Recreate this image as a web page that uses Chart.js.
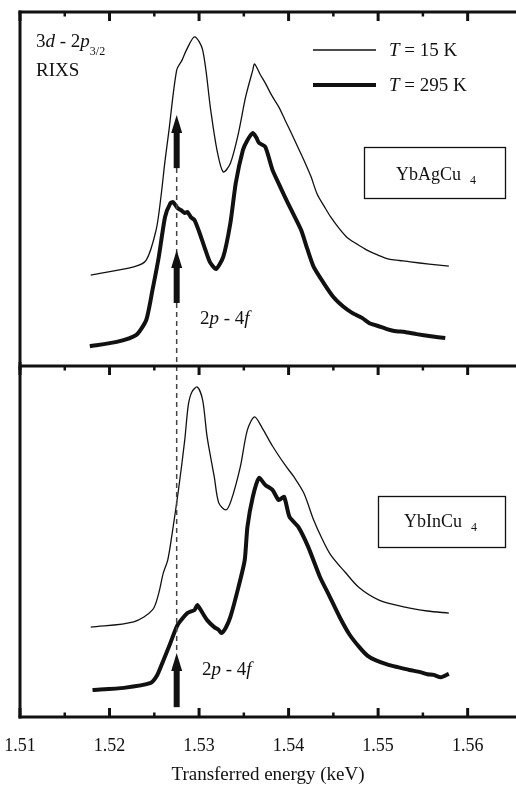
<!DOCTYPE html>
<html>
<head>
<meta charset="utf-8">
<script src="https://cdn.jsdelivr.net/npm/chart.js@4.4.1/dist/chart.umd.min.js"></script>
<style>
  body { margin: 0; background: #fff; }
  #wrap { position: relative; width: 516px; height: 785px; }
  canvas { position: absolute; left: 0; }
</style>
</head>
<body>
<div id="wrap">
  <canvas id="topChart" width="516" height="370" style="top:0"></canvas>
  <canvas id="bottomChart" width="516" height="423" style="top:362px"></canvas>
</div>
<script>
// x axis
const xMin = 1.51, xMax = 1.5654;
const majorTicks = [1.51, 1.52, 1.53, 1.54, 1.55, 1.56];
const minorTicks = [1.515, 1.525, 1.535, 1.545, 1.555];
const markEnergy = 1.5275;   // 2p - 4f position (dashed line)

// YbAgCu4, T = 15 K
const agColdE = [1.5179,1.5227,1.5241,1.5252,1.5257,1.5262,1.5266,1.5275,1.5281,1.5286,1.5295,1.5304,1.5313,1.5320,1.5327,1.5335,1.5344,1.5352,1.5360,1.5362,1.5368,1.5374,1.5381,1.5389,1.5396,1.5403,1.5410,1.5417,1.5425,1.5432,1.5440,1.5447,1.5456,1.5465,1.5476,1.5487,1.5500,1.5512,1.5524,1.5536,1.5557,1.5579];
const agCold  = [25.7,28.0,29.9,38.4,46.9,58.0,65.8,83.6,86.4,89.3,93.0,89.3,72.3,61.0,54.8,57.3,65.8,76.0,83.6,85.3,82.5,79.9,76.5,73.2,69.5,65.8,62.0,58.2,53.5,48.5,45.0,42.1,39.0,36.4,34.5,32.8,31.3,30.2,29.8,29.4,28.8,28.2];

// YbAgCu4, T = 295 K
const agHotE = [1.5178,1.5208,1.5230,1.5241,1.5248,1.5255,1.5262,1.5268,1.5271,1.5276,1.5280,1.5284,1.5287,1.5291,1.5295,1.5300,1.5306,1.5312,1.5319,1.5327,1.5335,1.5341,1.5349,1.5354,1.5360,1.5364,1.5367,1.5374,1.5382,1.5389,1.5396,1.5403,1.5414,1.5421,1.5428,1.5439,1.5450,1.5461,1.5471,1.5482,1.5491,1.5500,1.5509,1.5518,1.5530,1.5543,1.5559,1.5575];
const agHot  = [5.6,6.8,8.8,13.0,21.5,30.8,42.1,46.0,46.3,44.6,44.0,43.2,43.5,42.0,41.2,38.0,33.6,29.4,27.4,30.8,40.4,51.7,61.0,63.8,65.8,64.5,63.0,61.9,55.4,51.5,47.7,44.1,38.4,33.0,28.0,23.5,19.5,16.8,15.0,13.6,12.0,11.3,10.5,9.9,9.6,9.0,8.4,7.9];

// YbInCu4, T = 15 K
const inColdE = [1.5179,1.5227,1.5248,1.5255,1.5260,1.5265,1.5270,1.5277,1.5284,1.5288,1.5292,1.5298,1.5304,1.5309,1.5317,1.5322,1.5330,1.5336,1.5346,1.5354,1.5362,1.5370,1.5382,1.5396,1.5406,1.5417,1.5428,1.5437,1.5447,1.5463,1.5479,1.5501,1.5530,1.5555,1.5579];
const inCold  = [25.6,27.1,30.5,35.3,41.0,44.7,52.4,64.7,78.9,88.9,92.6,94.0,90.3,79.8,68.4,61.0,59.0,61.8,71.2,81.8,85.5,82.6,77.2,71.8,68.4,63.8,56.1,51.0,46.2,41.3,36.8,33.3,31.3,30.2,29.6];

// YbInCu4, T = 295 K
const inHotE = [1.5181,1.5216,1.5246,1.5253,1.5259,1.5268,1.5276,1.5287,1.5295,1.5298,1.5303,1.5309,1.5317,1.5322,1.5325,1.5330,1.5335,1.5344,1.5351,1.5354,1.5360,1.5367,1.5374,1.5382,1.5389,1.5395,1.5401,1.5411,1.5422,1.5435,1.5444,1.5457,1.5468,1.5479,1.5488,1.5497,1.5510,1.5522,1.5535,1.5547,1.5555,1.5562,1.5570,1.5579];
const inHot  = [7.7,8.3,9.7,11.8,15.4,21.1,26.2,29.6,30.5,31.9,30.0,27.6,25.6,24.8,23.9,25.5,28.5,37.0,44.7,54.1,62.7,68.1,66.1,64.7,61.8,62.7,57.0,54.1,48.4,39.9,35.3,28.5,23.5,19.9,17.5,16.2,15.0,14.2,13.4,12.8,12.2,12.0,11.3,12.3];

// arrows [tip, base] in panel intensity units
const arrowsTop = [[70.9, 55.9], [32.8, 17.8]];
const arrowsBottom = [[18.2, 2.8]];

const FONT = '"Liberation Serif", "Times New Roman", serif';
const INK = '#111';

function pts(xs, ys) {
  return xs.map((x, i) => ({ x: x, y: ys[i] }));
}

function thin(data) {
  return { data: data, borderColor: INK, borderWidth: 1.3, pointRadius: 0, tension: 0.3, fill: false };
}
function thick(data) {
  return { data: data, borderColor: INK, borderWidth: 4, pointRadius: 0, tension: 0.2, fill: false, borderJoinStyle: 'round' };
}
function dashed(data) {
  return { data: data, borderColor: '#444', borderWidth: 1.5, borderDash: [5, 4], pointRadius: 0, fill: false };
}

function rich(ctx, x, y, parts) {
  let cx = x;
  parts.forEach(p => {
    ctx.font = (p.i ? 'italic ' : '') + p.s + 'px ' + FONT;
    cx += p.dx || 0;
    ctx.fillText(p.t, cx, y + (p.dy || 0));
    cx += ctx.measureText(p.t).width;
  });
}

function line(ctx, x1, y1, x2, y2, w) {
  ctx.lineWidth = w;
  ctx.beginPath();
  ctx.moveTo(x1, y1);
  ctx.lineTo(x2, y2);
  ctx.stroke();
}

function ticks(chart, y, dir) {
  const ctx = chart.ctx, xs = chart.scales.x;
  majorTicks.forEach(v => line(ctx, xs.getPixelForValue(v), y, xs.getPixelForValue(v), y + dir * 9, 3));
  minorTicks.forEach(v => line(ctx, xs.getPixelForValue(v), y, xs.getPixelForValue(v), y + dir * 4.5, 2.5));
}

function arrows(chart, list) {
  const ctx = chart.ctx;
  const x = chart.scales.x.getPixelForValue(markEnergy);
  ctx.fillStyle = INK;
  list.forEach(a => {
    const tip = chart.scales.y.getPixelForValue(a[0]);
    const base = chart.scales.y.getPixelForValue(a[1]);
    ctx.fillRect(x - 3, tip + 15, 6, base - tip - 15);
    ctx.beginPath();
    ctx.moveTo(x, tip);
    ctx.lineTo(x + 5.5, tip + 18);
    ctx.lineTo(x - 5.5, tip + 18);
    ctx.closePath();
    ctx.fill();
  });
}

function labelBox(ctx, x, y, w, h, name, nameX, base) {
  ctx.strokeStyle = INK;
  ctx.lineWidth = 1.3;
  ctx.strokeRect(x, y, w, h);
  ctx.fillStyle = INK;
  rich(ctx, nameX, base, [{ t: name, s: 18 }, { t: '4', s: 12, dx: 9, dy: 4 }]);
}

const framePlugin = {
  id: 'frame',
  afterDraw(chart, args, opts) {
    const ctx = chart.ctx, ca = chart.chartArea;
    ctx.save();
    ctx.strokeStyle = INK;
    ctx.fillStyle = INK;
    if (opts.panel === 'top') {
      line(ctx, ca.left - 1.5, ca.top, chart.width, ca.top, 3);
      line(ctx, ca.left, ca.top - 1.5, ca.left, chart.height, 3);
      ticks(chart, ca.top, 1);
      arrows(chart, arrowsTop);
      ctx.fillStyle = INK;
      rich(ctx, 36, 47, [{ t: '3', s: 19 }, { t: 'd', s: 19, i: true }, { t: ' - 2', s: 19 }, { t: 'p', s: 19, i: true }, { t: '3/2', s: 12, dy: 8 }]);
      rich(ctx, 36, 76, [{ t: 'RIXS', s: 19 }]);
      // legend
      line(ctx, 313, 50, 376, 50, 1.3);
      line(ctx, 313, 85, 376, 85, 4);
      rich(ctx, 389, 56, [{ t: 'T', s: 19, i: true }, { t: ' = 15 K', s: 19 }]);
      rich(ctx, 389, 91, [{ t: 'T', s: 19, i: true }, { t: ' = 295 K', s: 19 }]);
      labelBox(ctx, 364.5, 147.5, 141, 51, 'YbAgCu', 396, 180);
      rich(ctx, 200, 324, [{ t: '2', s: 19 }, { t: 'p', s: 19, i: true }, { t: ' - 4', s: 19 }, { t: 'f', s: 19, i: true }]);
    } else {
      line(ctx, ca.left, 0, ca.left, ca.bottom + 1.5, 3);
      line(ctx, ca.left, ca.top, chart.width, ca.top, 3);
      line(ctx, ca.left - 1.5, ca.bottom, chart.width, ca.bottom, 3);
      ticks(chart, ca.top, 1);
      ticks(chart, ca.bottom, -1);
      arrows(chart, arrowsBottom);
      labelBox(ctx, 378.5, 134.5, 127, 51, 'YbInCu', 404, 165);
      ctx.fillStyle = INK;
      rich(ctx, 202, 313, [{ t: '2', s: 19 }, { t: 'p', s: 19, i: true }, { t: ' - 4', s: 19 }, { t: 'f', s: 19, i: true }]);
    }
    ctx.restore();
  }
};

function baseOptions(panel, padding, showAxis) {
  return {
    responsive: false,
    animation: false,
    events: [],
    layout: { padding: padding },
    plugins: { legend: { display: false }, tooltip: { enabled: false }, frame: { panel: panel } },
    scales: {
      x: {
        type: 'linear', min: xMin, max: xMax, display: showAxis, position: 'bottom',
        grid: { display: false, drawTicks: false },
        border: { display: false },
        afterBuildTicks: s => { s.ticks = majorTicks.map(v => ({ value: v })); },
        afterFit: s => {
          if (!showAxis) return;
          s.paddingLeft = 0; s.paddingRight = 0; s.height = 68;
        },
        ticks: {
          autoSkip: false, maxRotation: 0, padding: 18, color: INK,
          font: { family: FONT, size: 18 },
          callback: v => v.toFixed(2)
        },
        title: {
          display: true, text: 'Transferred energy (keV)', color: INK,
          font: { family: FONT, size: 19, lineHeight: 1 },
          padding: { top: 10, bottom: 0 }
        }
      },
      y: { type: 'linear', min: 0, max: 100, display: false }
    }
  };
}

new Chart(document.getElementById('topChart'), {
  type: 'line',
  data: {
    datasets: [
      dashed([{ x: markEnergy, y: 55.9 }, { x: markEnergy, y: 0 }]),
      thin(pts(agColdE, agCold)),
      thick(pts(agHotE, agHot))
    ]
  },
  options: baseOptions('top', { top: 12, left: 20, right: 0, bottom: 4 }, false),
  plugins: [framePlugin]
});

new Chart(document.getElementById('bottomChart'), {
  type: 'line',
  data: {
    datasets: [
      dashed([{ x: markEnergy, y: 100 }, { x: markEnergy, y: 18.2 }]),
      thin(pts(inColdE, inCold)),
      thick(pts(inHotE, inHot))
    ]
  },
  options: baseOptions('bottom', { top: 4, left: 20, right: 0, bottom: 0 }, true),
  plugins: [framePlugin]
});
</script>
</body>
</html>
